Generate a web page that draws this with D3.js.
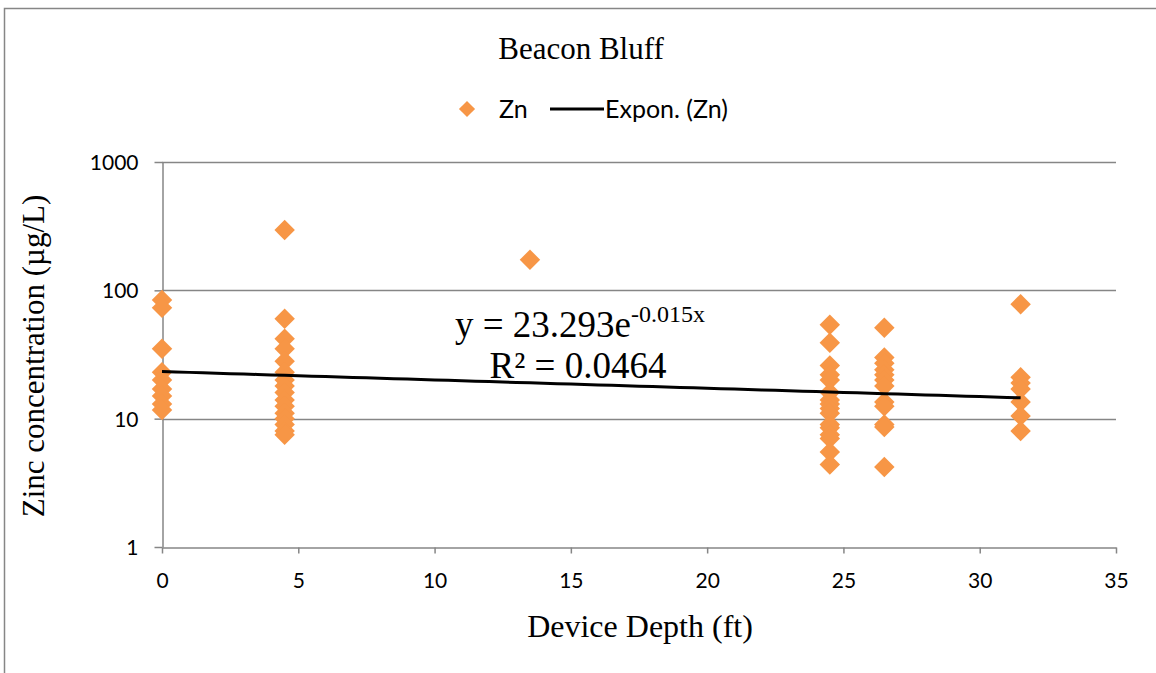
<!DOCTYPE html>
<html>
<head>
<meta charset="utf-8">
<script src="https://cdn.jsdelivr.net/npm/d3@7"></script>
<style>
  html, body { margin: 0; padding: 0; background: #fff; }
  svg { display: block; }
</style>
</head>
<body>
<svg id="chart" width="1156" height="673"></svg>
<script>
// Zinc samples by device depth (ft), one array per depth
const depths = [0, 4.5, 13.5, 24.5, 26.5, 31.5];
const zn_0 = [84, 73, 35, 23, 20, 17, 15, 13, 11.7];
const zn_4_5 = [295, 60, 42, 35, 28, 23, 20, 18, 16, 14, 12.5, 11, 10, 9, 8, 7.5];
const zn_13_5 = [173];
const zn_24_5 = [54, 39, 26, 22, 20, 16, 14, 13, 12, 11, 9, 8.5, 7.5, 7, 5.5, 4.4];
const zn_26_5 = [51, 30, 27, 24, 22, 20, 18, 13.5, 12.5, 9, 8.6, 4.2];
const zn_31_5 = [78, 21, 19, 17, 13.5, 10.5, 8];
const seriesByDepth = [zn_0, zn_4_5, zn_13_5, zn_24_5, zn_26_5, zn_31_5];

// Exponential trend: y = a * e^(b x)
const trendA = 23.293;
const trendB = -0.015;
const trendR2 = 0.0464;

const xTicks = [0, 5, 10, 15, 20, 25, 30, 35];
const yTicks = [1, 10, 100, 1000];

const points = [];
depths.forEach((d, i) => seriesByDepth[i].forEach(v => points.push({ x: d, y: v })));

const svg = d3.select("#chart");
const W = 1156, H = 673;
const margin = { left: 162, right: 40, top: 162, bottom: 126 };

const x = d3.scaleLinear().domain([0, 35]).range([margin.left, W - margin.right]);
const y = d3.scaleLog().domain([1, 1000]).range([H - margin.bottom, margin.top]);

const grey = "#868686";
const orange = "#F79646";
const sans = "Lato, 'Open Sans', sans-serif";
const serif = "'Liberation Serif', 'DejaVu Serif', serif";

// outer chart frame
svg.append("rect")
  .attr("x", 4.5).attr("y", 8.5)
  .attr("width", W + 20).attr("height", H + 20)
  .attr("fill", "none").attr("stroke", grey).attr("stroke-width", 1.5);

// horizontal gridlines
svg.append("g")
  .selectAll("line")
  .data(yTicks.slice(1))
  .join("line")
  .attr("x1", x(0)).attr("x2", x(35))
  .attr("y1", d => Math.round(y(d)) + 0.5).attr("y2", d => Math.round(y(d)) + 0.5)
  .attr("stroke", grey).attr("stroke-width", 1.5);

// x axis
const xAxis = svg.append("g")
  .attr("transform", `translate(0,${Math.round(y(1)) + 0.5})`)
  .call(d3.axisBottom(x).tickValues(xTicks).tickSize(6).tickSizeOuter(0).tickPadding(20));

// y axis
const yAxis = svg.append("g")
  .attr("transform", `translate(${Math.round(x(0)) + 0.5},0)`)
  .call(d3.axisLeft(y).tickValues(yTicks).tickFormat(d3.format("d")).tickSize(8).tickSizeOuter(0).tickPadding(16));

[xAxis, yAxis].forEach(g => {
  g.select(".domain").attr("stroke", grey).attr("stroke-width", 1.5);
  g.selectAll(".tick line").attr("stroke", grey).attr("stroke-width", 1.5);
  g.selectAll(".tick text")
    .attr("fill", "#000")
    .style("font-family", sans)
    .style("font-size", "21px");
});
yAxis.selectAll(".tick text").attr("dy", "0.35em");

// data markers
const diamond = d3.symbol().type(d3.symbolSquare).size(210);
svg.append("g")
  .selectAll("path")
  .data(points)
  .join("path")
  .attr("d", diamond)
  .attr("transform", d => `translate(${x(d.x)},${y(d.y)}) rotate(45)`)
  .attr("fill", orange);

// exponential trendline over the sampled depth range
const xs = d3.range(0, 31.5 + 0.01, 0.5);
const trendLine = d3.line()
  .x(d => x(d))
  .y(d => y(trendA * Math.exp(trendB * d)));
svg.append("path")
  .datum(xs)
  .attr("d", trendLine)
  .attr("fill", "none")
  .attr("stroke", "#000")
  .attr("stroke-width", 3);

// trend equation and R²
const eq = svg.append("text")
  .attr("x", 580).attr("y", 337)
  .attr("text-anchor", "middle")
  .style("font-family", serif)
  .style("font-size", "37px");
eq.append("tspan").text(`y = ${trendA}e`);
eq.append("tspan").attr("dy", -15).style("font-size", "24px").text(`${trendB}x`);

svg.append("text")
  .attr("x", 578).attr("y", 378)
  .attr("text-anchor", "middle")
  .style("font-family", serif)
  .style("font-size", "37px")
  .text(`R² = ${trendR2}`);

// title
svg.append("text")
  .attr("x", 581).attr("y", 59)
  .attr("text-anchor", "middle")
  .style("font-family", serif)
  .style("font-size", "31px")
  .text("Beacon Bluff");

// legend
const legY = 109;
svg.append("path")
  .attr("d", d3.symbol().type(d3.symbolSquare).size(130))
  .attr("transform", `translate(467,${legY}) rotate(45)`)
  .attr("fill", orange);
svg.append("text")
  .attr("x", 499).attr("y", legY + 9)
  .style("font-family", sans).style("font-size", "25px")
  .text("Zn");
svg.append("line")
  .attr("x1", 550).attr("x2", 604)
  .attr("y1", legY).attr("y2", legY)
  .attr("stroke", "#000").attr("stroke-width", 3);
svg.append("text")
  .attr("x", 605).attr("y", legY + 9)
  .style("font-family", sans).style("font-size", "25px")
  .text("Expon. (Zn)");

// axis titles
svg.append("text")
  .attr("x", 640).attr("y", 637)
  .attr("text-anchor", "middle")
  .style("font-family", serif)
  .style("font-size", "32px")
  .text("Device Depth (ft)");

svg.append("text")
  .attr("transform", "translate(44,356) rotate(-90)")
  .attr("text-anchor", "middle")
  .style("font-family", serif)
  .style("font-size", "31px")
  .text("Zinc concentration (µg/L)");
</script>
</body>
</html>
